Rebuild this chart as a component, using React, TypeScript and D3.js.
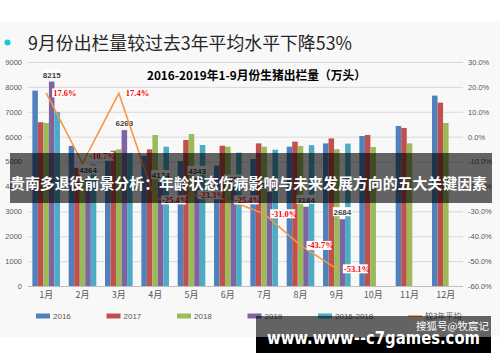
import React, {useEffect, useRef} from 'react';
import * as d3 from 'd3';

const months = ['1月', '2月', '3月', '4月', '5月', '6月', '7月', '8月', '9月', '10月', '11月', '12月'];
const seriesNames = ['2016', '2017', '2018', '2019', '2016-2018'];
const v2016 = [7850, 5630, 5090, 5230, 5020, 4835, 5100, 5597, 5730, 6027, 6430, 7650];
const v2017 = [6580, 4750, 5435, 5490, 5866, 5637, 5730, 5800, 5930, 6067, 6350, 7366];
const v2018 = [6550, 4280, 5490, 6067, 6107, 5597, 5600, 5625, 5500, 5585, 5730, 6550];
const v2019 = [8215, 4364, 6263, 4174, 4343, 3998, 3779, 3184, 2684, null, null, null];
const vAvg = [6993, 4887, 5338, 5596, 5664, 5356, 5477, 5660, 5720, null, null, null];
const pctVsAvg = [17.6, -10.7, 17.4, -25.4, -23.3, -25.4, -31.0, -43.7, -53.1];
const leftTicks = [0, 1000, 2000, 3000, 4000, 5000, 6000, 7000, 8000, 9000];
const rightTicks = [-60, -50, -40, -30, -20, -10, 0, 10, 20, 30];
const lineName = '较3年平均';

const colors = ['#4f81bd', '#c0504d', '#9bbb59', '#8064a2', '#4bacc6'];
const lineColor = '#f79646';
const cjk = '"Noto Sans CJK SC", "Noto Sans", sans-serif';
const latin = '"Liberation Sans", Arial, sans-serif';

export default function App() {
  const ref = useRef<SVGSVGElement>(null);

  useEffect(() => {
    const svg = d3.select(ref.current);
    svg.selectAll('*').remove();

    // backdrop of the pasted chart image
    svg.append('rect').attr('width', 500).attr('height', 362).attr('fill', '#fff');
    svg.append('rect').attr('y', 22).attr('width', 500).attr('height', 315).attr('fill', '#f8f8f8');

    // headline
    svg.append('circle').attr('cx', 7.5).attr('cy', 42.5).attr('r', 3).attr('fill', '#19c6de');
    svg.append('text').attr('x', 28).attr('y', 49.5)
      .attr('font-family', cjk).attr('font-size', 18).attr('fill', '#262626')
      .attr('textLength', 324).attr('lengthAdjust', 'spacingAndGlyphs')
      .text('9月份出栏量较过去3年平均水平下降53%');

    const x = d3.scaleBand<string>().domain(months).range([28, 464]).paddingInner(0.24).paddingOuter(0.12);
    const xs = d3.scaleBand<string>().domain(seriesNames).range([0, x.bandwidth()]);
    const yL = d3.scaleLinear().domain([0, 9000]).range([286, 62]);
    const yR = d3.scaleLinear().domain([-60, 30]).range([286, 62]);

    // gridlines
    svg.append('g').selectAll('line').data(leftTicks).join('line')
      .attr('x1', 28).attr('x2', 463)
      .attr('y1', d => yL(d) + 0.5).attr('y2', d => yL(d) + 0.5)
      .attr('stroke', d => (d === 0 ? '#bfbfbf' : '#d9d9d9')).attr('stroke-width', 1);

    const leftAxis = svg.append('g').attr('transform', 'translate(28,0)')
      .call(d3.axisLeft(yL).tickValues(leftTicks).tickSize(0).tickPadding(6).tickFormat(d => String(d)));
    leftAxis.select('.domain').remove();
    leftAxis.selectAll('text').attr('font-family', latin).attr('font-size', 7.5).attr('fill', '#595959');

    const rightAxis = svg.append('g').attr('transform', 'translate(463,0)')
      .call(d3.axisRight(yR).tickValues(rightTicks).tickSize(0).tickPadding(5)
        .tickFormat(d => (d as number).toFixed(1) + '%'));
    rightAxis.select('.domain').remove();
    rightAxis.selectAll('text').attr('font-family', latin).attr('font-size', 7.5).attr('fill', '#595959');

    const bottomAxis = svg.append('g').attr('transform', 'translate(0,286)')
      .call(d3.axisBottom(x).tickSize(0).tickPadding(6));
    bottomAxis.select('.domain').remove();
    bottomAxis.selectAll('text').attr('font-family', cjk).attr('font-size', 9).attr('fill', '#595959');

    // bars
    const series = [v2016, v2017, v2018, v2019, vAvg];
    series.forEach((vals, si) => {
      const rows = vals.map((v, i) => ({m: months[i], v})).filter(r => r.v !== null) as {m: string; v: number}[];
      svg.append('g').selectAll('rect').data(rows).join('rect')
        .attr('x', d => (x(d.m) as number) + (xs(seriesNames[si]) as number))
        .attr('width', xs.bandwidth())
        .attr('y', d => yL(d.v))
        .attr('height', d => yL(0) - yL(d.v))
        .attr('fill', colors[si]);
    });

    // 2019 value labels
    const lab19 = v2019.map((v, i) => ({m: months[i], v})).filter(r => r.v !== null) as {m: string; v: number}[];
    const g19 = svg.append('g').selectAll('g').data(lab19).join('g')
      .attr('transform', d => `translate(${(x(d.m) as number) + (xs('2019') as number) + xs.bandwidth() / 2},${yL(d.v) - 7})`);
    g19.append('rect').attr('x', -9.5).attr('y', -5).attr('width', 19).attr('height', 9).attr('fill', '#fff');
    g19.append('text').attr('text-anchor', 'middle').attr('y', 3)
      .attr('font-family', latin).attr('font-weight', 'bold').attr('font-size', 8).attr('fill', '#404040')
      .text(d => String(d.v));

    // % line vs 3-year average
    const pts = pctVsAvg.map((p, i) => ({m: months[i], p}));
    const cx = (m: string) => (x(m) as number) + x.bandwidth() / 2;
    const line = d3.line<{m: string; p: number}>().x(d => cx(d.m)).y(d => yR(d.p));
    svg.append('path').datum(pts)
      .attr('fill', 'none').attr('stroke', lineColor).attr('stroke-width', 1.6).attr('d', line);

    const gp = svg.append('g').selectAll('g').data(pts).join('g')
      .attr('transform', d => `translate(${cx(d.m) + 6},${yR(d.p) + (d.m === '2月' ? -7 : 0)})`);
    gp.append('rect').attr('x', 0).attr('y', -4.5).attr('width', d => (d.p < 0 ? 25 : 22)).attr('height', 9)
      .attr('fill', '#fff');
    gp.append('text').attr('x', 1).attr('y', 3)
      .attr('font-family', '"Liberation Serif", "Times New Roman", serif').attr('font-weight', 'bold')
      .attr('font-size', 8.5).attr('fill', '#ff0000')
      .text(d => d.p.toFixed(1) + '%');

    // chart title
    svg.append('text').attr('x', 147).attr('y', 79.5)
      .attr('font-family', cjk).attr('font-weight', 'bold').attr('font-size', 12).attr('fill', '#000')
      .attr('textLength', 219).attr('lengthAdjust', 'spacingAndGlyphs')
      .text('2016-2019年1-9月份生猪出栏量（万头）');

    // legend
    const legendItems = [...seriesNames, lineName];
    const lg = svg.append('g').selectAll('g').data(legendItems).join('g')
      .attr('transform', (d, i) => `translate(${i < 5 ? 36 + i * 70.5 : 408},316)`);
    lg.filter((d, i) => i < 5).append('rect')
      .attr('y', -2.5).attr('width', 14).attr('height', 5).attr('fill', (d, i) => colors[i]);
    lg.filter((d, i) => i === 5).append('line')
      .attr('x2', 14).attr('stroke', lineColor).attr('stroke-width', 1.6);
    lg.append('text').attr('x', 17).attr('y', 2.8)
      .attr('font-family', (d, i) => (i === 5 ? cjk : latin)).attr('font-size', 8).attr('fill', '#595959')
      .text(d => d);

    // overlaid banner
    svg.append('rect').attr('x', 10).attr('y', 153).attr('width', 482).attr('height', 50)
      .attr('fill', 'rgba(0,0,0,0.6)');
    svg.append('text').attr('x', 10).attr('y', 189)
      .attr('font-family', cjk).attr('font-weight', 'bold').attr('font-size', 14.5).attr('fill', '#fff')
      .attr('textLength', 477).attr('lengthAdjust', 'spacingAndGlyphs')
      .text('贵南多退役前景分析：年龄状态伤病影响与未来发展方向的五大关键因素');

    // watermark
    svg.append('rect').attr('x', 256).attr('y', 316).attr('width', 235).attr('height', 21)
      .attr('fill', 'rgba(0,0,0,0.6)');
    svg.append('rect').attr('x', 256).attr('y', 337).attr('width', 235).attr('height', 16).attr('fill', '#000');
    svg.append('text').attr('x', 489).attr('y', 330).attr('text-anchor', 'end')
      .attr('font-family', cjk).attr('font-size', 10.5).attr('fill', '#fff')
      .text('搜狐号@牧宸记');
    svg.append('text').attr('x', 267).attr('y', 343.5)
      .attr('font-family', '"DejaVu Sans", sans-serif').attr('font-weight', 'bold').attr('font-size', 17)
      .attr('fill', '#fff').attr('textLength', 213).attr('lengthAdjust', 'spacingAndGlyphs')
      .text('www.www--c7games.com');
  }, []);

  return <svg ref={ref} width={500} height={362} style={{position: 'absolute', left: 0, top: 0}} />;
}
